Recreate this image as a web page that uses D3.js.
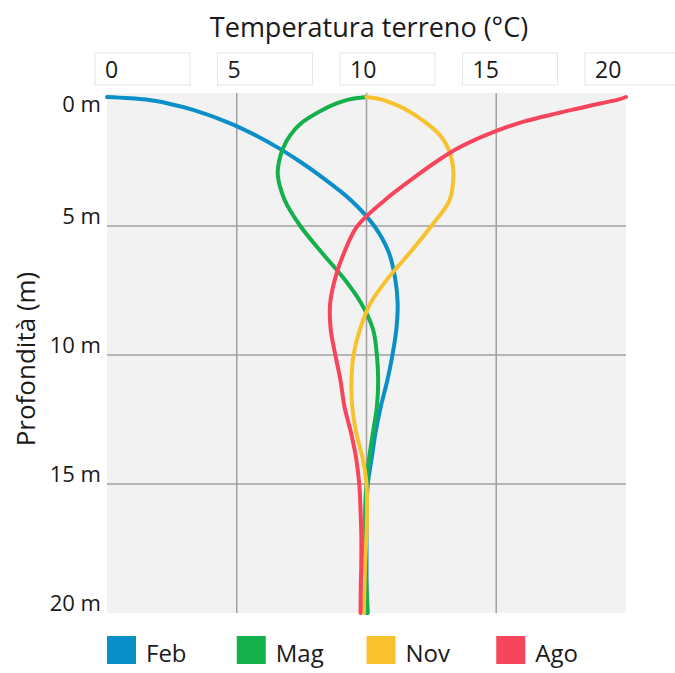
<!DOCTYPE html>
<html>
<head>
<meta charset="utf-8">
<script src="https://cdn.jsdelivr.net/npm/d3@7"></script>
<style>
  body { margin: 0; background: #fff; }
  svg { display: block; font-family: "Open Sans", sans-serif; }
</style>
</head>
<body>
<div id="root"></div>
<script>
// depth in m, temperature in °C
const depths = [0, 0.1, 0.25, 0.5, 1, 1.5, 2, 2.5, 3, 4, 5, 6, 7, 8, 9, 10, 11, 12, 13, 14, 15, 16, 17, 18, 19, 20];
const feb = [0, 1.5, 2.35, 3.32, 4.7, 5.76, 6.65, 7.43, 8.14, 9.4, 10.3, 10.85, 11.1, 11.2, 11.15, 11.0, 10.8, 10.55, 10.35, 10.2, 10.05, 10.0, 10.0, 10.0, 10.0, 10.0];
const mag = [10, 9.3, 8.85, 8.3, 7.5, 7.05, 6.78, 6.63, 6.58, 6.85, 7.45, 8.25, 9.1, 9.8, 10.25, 10.4, 10.45, 10.4, 10.25, 10.1, 10.0, 9.95, 9.95, 9.95, 10.0, 10.05];
const nov = [10, 10.6, 11.0, 11.55, 12.3, 12.85, 13.15, 13.3, 13.35, 13.2, 12.5, 11.7, 10.85, 10.15, 9.75, 9.5, 9.42, 9.45, 9.6, 9.85, 10.0, 10.02, 10.0, 9.95, 9.92, 9.9];
const ago = [20, 19.7, 19.0, 17.9, 15.9, 14.55, 13.5, 12.7, 12.0, 10.7, 9.65, 9.15, 8.8, 8.6, 8.62, 8.8, 9.0, 9.15, 9.4, 9.6, 9.72, 9.77, 9.8, 9.8, 9.78, 9.77];

const months = ["Feb", "Mag", "Nov", "Ago"];
const colors = ["#0b8fc9", "#13b04c", "#f8c22e", "#f7455c"];
const series = [feb, mag, nov, ago];

const tempTicks = [0, 5, 10, 15, 20];
const depthTicks = [0, 5, 10, 15, 20];

const width = 675, height = 673;

const x = d3.scaleLinear().domain([0, 20]).range([107, 626]);
const y = d3.scaleLinear().domain([0, 20]).range([97, 613]);

const svg = d3.create("svg").attr("width", width).attr("height", height);

// plot background
svg.append("rect")
  .attr("x", x(0)).attr("y", y(0) - 4)
  .attr("width", x(20) - x(0)).attr("height", y(20) - y(0) + 4)
  .attr("fill", "#f2f2f2");

// grid
const grid = svg.append("g").attr("stroke", "#a0a0a0").attr("stroke-width", 1.5);
grid.selectAll("line.v")
  .data(tempTicks.slice(1, -1))
  .join("line")
  .attr("class", "v")
  .attr("x1", (d) => x(d)).attr("x2", (d) => x(d))
  .attr("y1", y(0) - 4).attr("y2", y(20));
grid.selectAll("line.h")
  .data(depthTicks.slice(1, -1))
  .join("line")
  .attr("class", "h")
  .attr("y1", (d) => y(d)).attr("y2", (d) => y(d))
  .attr("x1", x(0)).attr("x2", x(20));

// curves
const line = d3.line()
  .x((d) => x(d[1]))
  .y((d) => y(d[0]))
  .curve(d3.curveCatmullRom.alpha(0.5));

svg.append("g")
  .attr("fill", "none")
  .attr("stroke-width", 4)
  .attr("stroke-linecap", "round")
  .selectAll("path")
  .data(series)
  .join("path")
  .attr("stroke", (d, i) => colors[i])
  .attr("d", (d) => line(depths.map((dep, j) => [dep, d[j]])));

// top title and tick boxes
svg.append("text")
  .attr("x", 369).attr("y", 37)
  .attr("text-anchor", "middle")
  .attr("font-size", 27)
  .attr("fill", "#1a1a1a")
  .text("Temperatura terreno (°C)");

const boxLeft = (d) => x(d) - 12 - 1.45 * d;
const topTicks = svg.append("g").selectAll("g").data(tempTicks).join("g");
topTicks.append("rect")
  .attr("x", boxLeft).attr("y", 53)
  .attr("width", 95).attr("height", 32)
  .attr("fill", "#fff")
  .attr("stroke", "#e6e6e6");
topTicks.append("text")
  .attr("x", (d) => boxLeft(d) + 10).attr("y", 78)
  .attr("font-size", 23)
  .attr("fill", "#1a1a1a")
  .text((d) => d);

// depth labels
svg.append("g").selectAll("text")
  .data(depthTicks)
  .join("text")
  .attr("x", 101)
  .attr("y", (d) => Math.max(y(d) - 2, y(0) + 15))
  .attr("text-anchor", "end")
  .attr("font-size", 22)
  .attr("fill", "#1a1a1a")
  .text((d) => d + " m");

svg.append("text")
  .attr("transform", "translate(35,359) rotate(-90)")
  .attr("text-anchor", "middle")
  .attr("font-size", 26)
  .attr("fill", "#1a1a1a")
  .text("Profondità (m)");

// legend, squares sit on the grid columns
const legend = svg.append("g").selectAll("g")
  .data(months)
  .join("g")
  .attr("transform", (d, i) => `translate(${x(tempTicks[i])},636)`);
legend.append("rect")
  .attr("width", 29).attr("height", 28)
  .attr("fill", (d, i) => colors[i]);
legend.append("text")
  .attr("x", 39).attr("y", 26)
  .attr("font-size", 24)
  .attr("fill", "#1a1a1a")
  .text((d) => d);

d3.select("#root").append(() => svg.node());
</script>
</body>
</html>
